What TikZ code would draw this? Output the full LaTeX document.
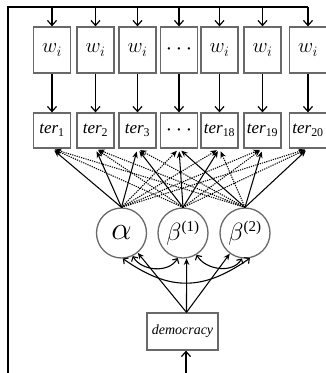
\documentclass[tikz,border=0pt]{standalone}
\usepackage{fontspec}
\setmainfont{Liberation Serif}
\usetikzlibrary{arrows.meta}
\definecolor{boxgray}{RGB}{105,105,105}
\newcommand{\facsup}[1]{^{\mbox{\fontsize{15}{15}\selectfont(#1)}}}
\newcommand{\wlabel}{\scalebox{1.2}{$w_i$}}
\newcommand{\skipdots}{\scalebox{1.3}{$\cdots$}}
\begin{document}
\begin{tikzpicture}[x=1pt,y=1pt,
  wbox/.style={draw=boxgray,line width=1.3pt,minimum width=37pt,minimum height=46pt,
    inner sep=0pt,font=\fontsize{17}{20}\selectfont},
  tbox/.style={wbox,minimum height=35pt},
  latent/.style={circle,draw=boxgray,line width=1.3pt,minimum size=50pt,inner sep=0pt,
    font=\fontsize{24}{28}\selectfont},
  wire/.style={line width=1.2pt},
  feed/.style={wire,-{Straight Barb[length=5pt,width=9pt]}},
  load/.style={line width=1.05pt,-{Stealth[length=6.5pt,width=5.5pt]},shorten >=3pt},
  cross/.style={load,dash pattern=on 1.2pt off 1.1pt},
  covar/.style={line width=1.1pt,
    {Straight Barb[length=3.5pt,width=7.5pt]}-{Straight Barb[length=3.5pt,width=7.5pt]}},
]
\useasboundingbox (0,0) rectangle (325,-373);

% weight boxes
\node[wbox] (w1) at (52,-50)    {\wlabel};
\node[wbox] (w2) at (95.5,-50)  {\wlabel};
\node[wbox] (w3) at (137.5,-50) {\wlabel};
\node[wbox] (w4) at (179,-50)   {\skipdots};
\node[wbox] (w5) at (219.5,-50) {\wlabel};
\node[wbox] (w6) at (262.5,-50) {\wlabel};
\node[wbox] (w7) at (308,-50)   {\wlabel};

% indicator boxes
\node[tbox] (t1)  at (52,-130.5)    {\textit{ter}\textsubscript{1}};
\node[tbox] (t2)  at (95.5,-130.5)  {\textit{ter}\textsubscript{2}};
\node[tbox] (t3)  at (137.5,-130.5) {\textit{ter}\textsubscript{3}};
\node[tbox] (t4)  at (179,-130.5)   {\skipdots};
\node[tbox] (t18) at (219.5,-130.5) {\textit{ter}\textsubscript{18}};
\node[tbox] (t19) at (262.5,-130.5) {\textit{ter}\textsubscript{19}};
\node[tbox] (t20) at (308,-130.5)   {\textit{ter}\textsubscript{20}};

% latent factors
\node[latent] (alpha) at (121.5,-233) {\scalebox{1.3}{$\alpha$}};
\node[latent] (beta1) at (183,-233)   {$\beta\facsup{1}$};
\node[latent] (beta2) at (245,-233)   {$\beta\facsup{2}$};

% covariate
\node[draw=boxgray,line width=1.3pt,minimum width=71pt,minimum height=37pt,inner sep=0pt,
  font=\fontsize{14}{16}\selectfont\itshape] (dem) at (182.5,-331.5) {democracy};

% feedback wire along the left and top
\coordinate (corner) at (8,-7);
\coordinate (base) at (8,-373);
\coordinate (entry) at (186,-373);
\draw[wire] (base) -- (corner) -- (corner -| w7);
\foreach \n in {w1,w2,w3,w4,w5,w6,w7}
  \draw[feed] (corner -| \n) -- (\n.north);
\foreach \a/\b in {w1/t1,w2/t2,w3/t3,w4/t4,w5/t18,w6/t19,w7/t20}
  \draw[feed] (\a.south) -- (\b.north);
\draw[feed] (entry) -- (entry |- dem.south);

% factor loadings
\foreach \t in {t1,t2,t3}       \draw[load]  (alpha.north) -- (\t.south);
\foreach \t in {t4,t18,t19,t20} \draw[cross] (alpha.north) -- (\t.south);
\foreach \t in {t3,t4,t18}      \draw[load]  (beta1.north) -- (\t.south);
\foreach \t in {t1,t2,t19,t20}  \draw[cross] (beta1.north) -- (\t.south);
\foreach \t in {t4,t19,t20}     \draw[load]  (beta2.north) -- (\t.south);
\foreach \t in {t1,t2,t3,t18}   \draw[cross] (beta2.north) -- (\t.south);

% democracy effects
\coordinate (dtop) at ([xshift=4pt]dem.north);
\draw[load,shorten >=0pt] (dtop) -- (alpha);
\draw[load,shorten >=0pt] (dtop) -- (beta1.-82);
\draw[load,shorten >=0pt] (dtop) -- (beta2);

% factor covariances
\draw[covar] (alpha.-64) to[out=-60,in=-120] (beta1.-102);
\draw[covar] (beta1.-58) to[out=-60,in=-120] (beta2.-97);
\draw[covar] (alpha.-87) to[out=-35,in=-145,looseness=1.15] (beta2.-79);
\end{tikzpicture}
\end{document}
